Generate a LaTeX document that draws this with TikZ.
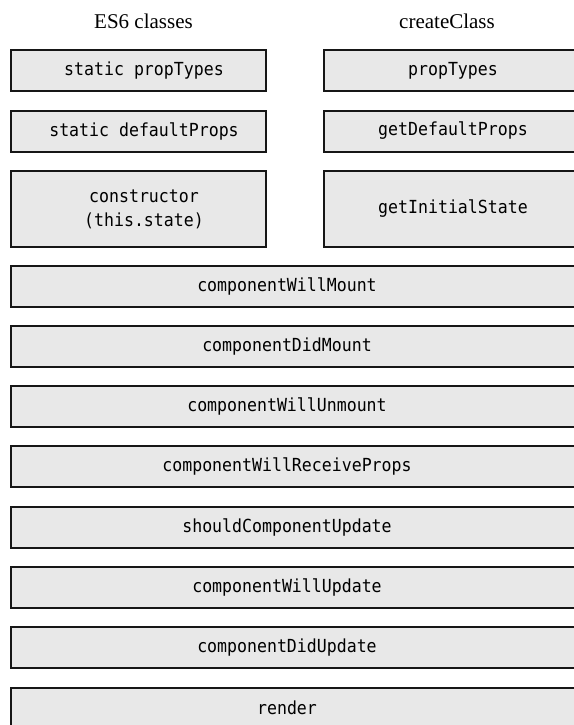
\documentclass[tikz,border=0pt]{standalone}
\usepackage{fontspec}
\setmainfont{Liberation Serif}
\newfontfamily\codefont[FakeStretch=0.92]{DejaVu Sans Mono}
\definecolor{boxfill}{HTML}{E8E8E8}
\definecolor{boxline}{HTML}{161616}
\tikzset{
  methodbox/.style={draw=boxline, fill=boxfill, line width=2pt},
  methodtext/.style={font=\codefont\fontsize{18}{24}\selectfont, text=black, align=center, inner sep=0pt},
  header/.style={font=\fontsize{21}{24}\selectfont, text=black, inner sep=0pt}
}
\begin{document}
\begin{tikzpicture}[x=1pt,y=-1pt]
\useasboundingbox (0,0) rectangle (573,725);

% column headers
\node[header] (hes) at (143.5,21) {ES6 classes};
\node[header] (hcc) at (447,21) {createClass};

% ES6 class members
\draw[methodbox] (10.5,50.5) rectangle (265.5,91);
\node[methodtext] (es1) at (144,70.5) {static propTypes};
\draw[methodbox] (10.5,111) rectangle (265.5,151.5);
\node[methodtext] (es2) at (144,131) {static defaultProps};
\draw[methodbox] (10.5,171) rectangle (265.5,247);
\node[methodtext] (es3) at (144,209) {constructor\\(this.state)};

% createClass members
\draw[methodbox] (323.5,50.5) rectangle (590,91);
\node[methodtext] (cc1) at (453,70.5) {propTypes};
\draw[methodbox] (323.5,111) rectangle (590,151.5);
\node[methodtext] (cc2) at (453,131) {getDefaultProps};
\draw[methodbox] (323.5,171) rectangle (590,247);
\node[methodtext] (cc3) at (453,209) {getInitialState};

% shared lifecycle methods
\foreach \name [count=\i from 0] in {componentWillMount,componentDidMount,componentWillUnmount,componentWillReceiveProps,shouldComponentUpdate,componentWillUpdate,componentDidUpdate,render}{
  \pgfmathsetmacro{\top}{265.5+60.3*\i}
  \draw[methodbox] (10.5,\top) rectangle (590,\top+41);
  \node[methodtext] (lc\i) at (287,\top+20.5) {\name};
}
\end{tikzpicture}
\end{document}
